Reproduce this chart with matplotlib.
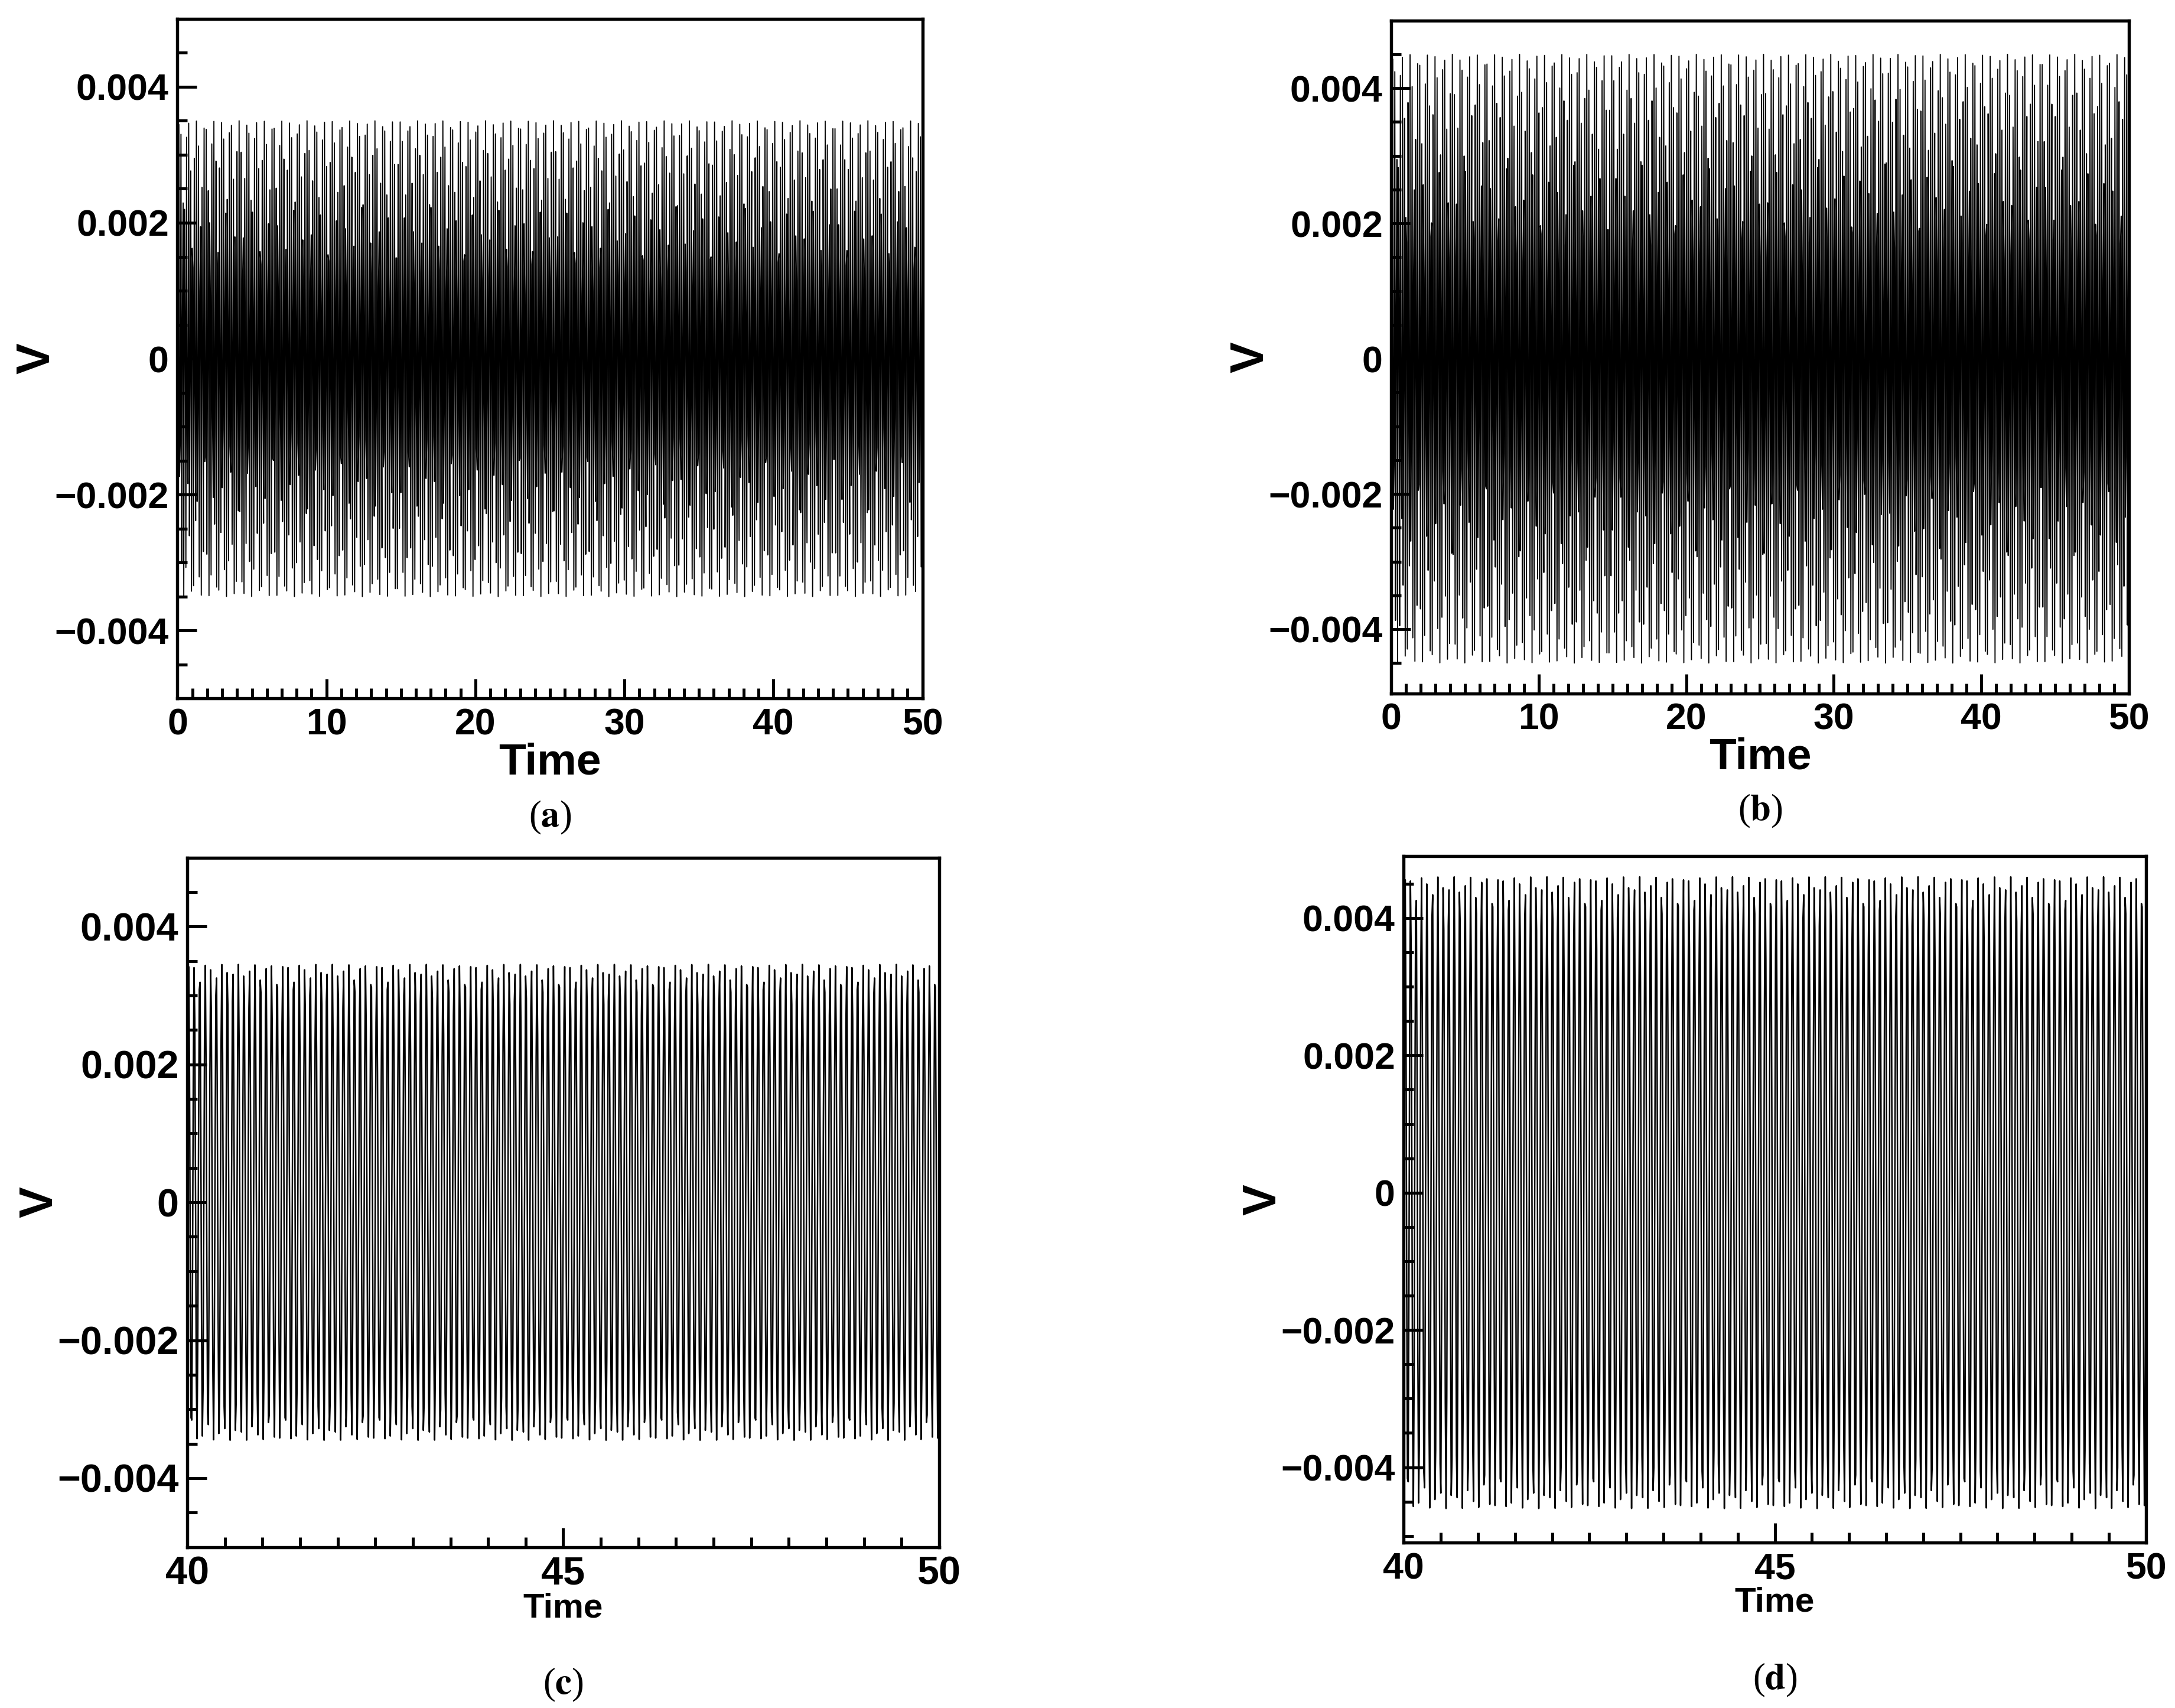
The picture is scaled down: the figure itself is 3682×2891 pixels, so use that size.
import numpy as np
from matplotlib import pyplot as plt
from matplotlib.ticker import MultipleLocator, FuncFormatter

# Panel settings
panels = ['a', 'b', 'c', 'd']
t_start = [0, 0, 40, 40]
t_end = [50, 50, 50, 50]
amplitude = [0.0035, 0.0045, 0.00345, 0.0046]
frequency = [13.6, 13.6, 13.6, 13.6]   # cycles per time unit
sample_dt = [0.047, 0.047, 0.01, 0.01]  # output interval of the series
ylims = [(-0.005, 0.005), (-0.00495, 0.005), (-0.005, 0.005), (-0.0051, 0.0049)]
x_major = [10, 10, 5, 5]
x_minor = [1, 1, 0.5, 0.5]
time_size = [18, 18, 14, 14]
tick_size = [15, 15, 16, 15]

# axes boxes as figure fractions
boxes = [
    [0.0816, 0.591, 0.3425, 0.398],
    [0.6397, 0.594, 0.339, 0.394],
    [0.0861, 0.0942, 0.3457, 0.4037],
    [0.6454, 0.0967, 0.3412, 0.402],
]

plt.rcParams['font.family'] = ['Liberation Sans', 'DejaVu Sans']
plt.rcParams['mathtext.fontset'] = 'stix'
fig = plt.figure(figsize=(3682 / 300, 2891 / 300), dpi=300)


def fmt(v, pos):
    if abs(v) < 1e-12:
        return '0'
    return ('%.3f' % v).replace('-', '\u2212')


for i in range(4):
    ax = fig.add_axes(boxes[i])
    dt = sample_dt[i]
    t = np.arange(t_start[i], t_end[i] + dt / 2, dt)
    v = amplitude[i] * np.sin(2 * np.pi * frequency[i] * t)
    ax.plot(t, v, color='black', lw=0.45 if i < 2 else 0.6)
    ax.set_xlim(t_start[i], t_end[i])
    ax.set_ylim(*ylims[i])
    ax.xaxis.set_major_locator(MultipleLocator(x_major[i]))
    ax.xaxis.set_minor_locator(MultipleLocator(x_minor[i]))
    ax.yaxis.set_major_locator(MultipleLocator(0.002))
    ax.yaxis.set_minor_locator(MultipleLocator(0.0005))
    ax.yaxis.set_major_formatter(FuncFormatter(fmt))
    ax.tick_params(which='both', direction='in', top=False, right=False,
                   labelsize=tick_size[i], width=1.2)
    ax.tick_params(which='major', length=8)
    ax.tick_params(which='minor', length=4)
    for lab in ax.get_xticklabels() + ax.get_yticklabels():
        lab.set_fontweight('bold')
    for s in ax.spines.values():
        s.set_linewidth(1.3)
    ax.set_xlabel('Time', fontsize=time_size[i], fontweight='bold', labelpad=0)
    ax.set_ylabel('V', fontsize=19, fontweight='bold', labelpad=-2)
    ax.text(0.5, -0.175 if i < 2 else -0.2, r'($\mathbf{%s}$)' % panels[i],
            transform=ax.transAxes, ha='center', va='center', fontsize=15,
            family='Liberation Serif')

fig.savefig('out.png', dpi=300, facecolor='white')
